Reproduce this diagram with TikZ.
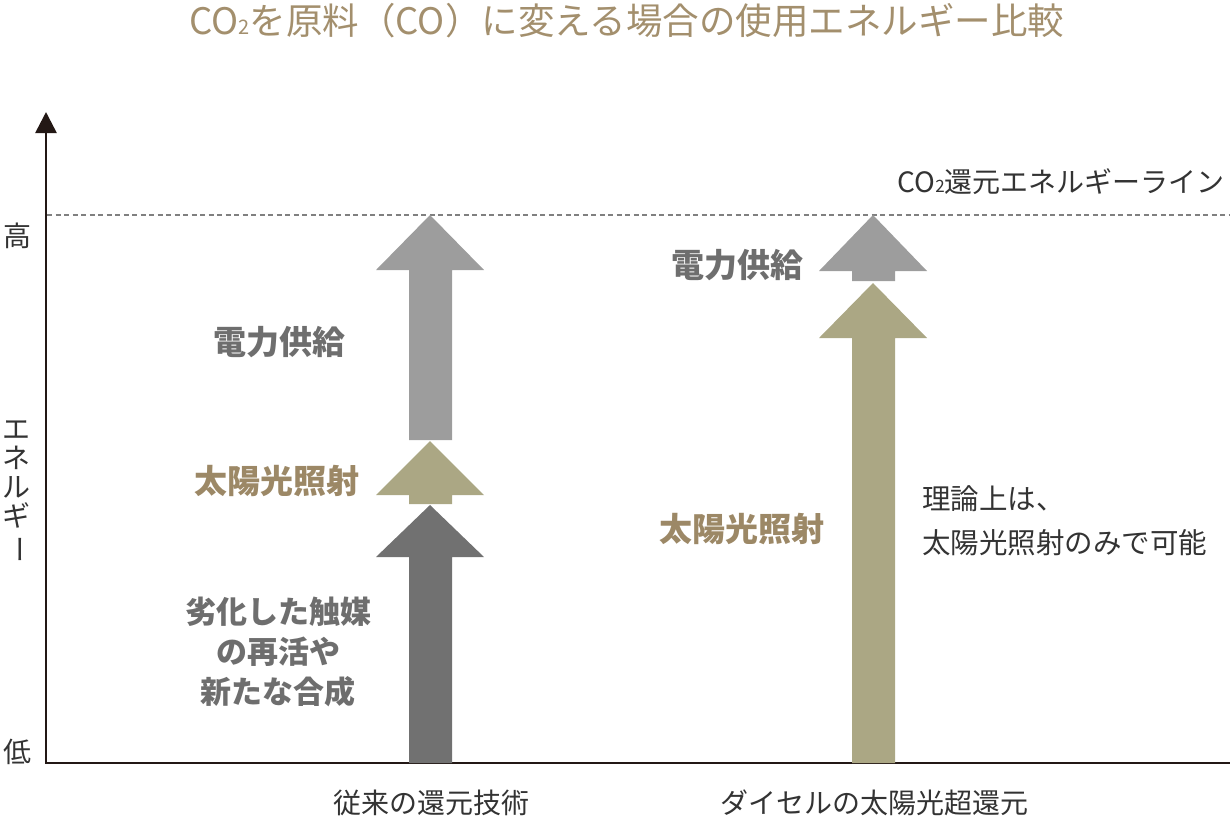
\documentclass[tikz,border=0pt]{standalone}
\usepackage{fontspec}
\setmainfont{Noto Sans CJK JP}
\usetikzlibrary{arrows.meta}
\definecolor{axisc}{HTML}{231815}
\definecolor{darkarr}{HTML}{717171}
\definecolor{lightarr}{HTML}{9D9D9D}
\definecolor{tanarr}{HTML}{ABA784}
\definecolor{tantext}{HTML}{9C8866}
\definecolor{titlec}{HTML}{A38F6D}
\definecolor{graytext}{HTML}{6E6E6E}
\definecolor{plaintext}{HTML}{333333}
\definecolor{dashc}{HTML}{808080}
\newcommand{\fsz}[1]{\fontsize{#1}{#1}\selectfont}
\newcommand{\subtwo}[1]{{\fontsize{#1}{#1}\selectfont 2}}
\begin{document}
\begin{tikzpicture}[x=1pt,y=-1pt,
  bigbold/.style={font=\fsz{33}\bfseries, text=graytext, inner sep=0pt},
  tanbold/.style={font=\fsz{33}\bfseries, text=tantext, inner sep=0pt},
  plain/.style={font=\fsz{28}, text=plaintext, inner sep=0pt}]
\useasboundingbox (0,0) rectangle (1230,820);
% title
\node[font=\fsz{36.5}, text=titlec, inner sep=0pt] (title) at (627,21) {CO\subtwo{20}を原料（CO）に変える場合の使用エネルギー比較};
% axes
\coordinate (origin) at (46,763);
\coordinate (ytop) at (46,112);
\coordinate (xend) at (1230,763);
\draw[axisc, line width=2.6, -{Triangle[width=21,length=21]}] (xend) -- (origin) -- (ytop);
% dashed reference line
\coordinate (dl) at (47,215);
\coordinate (dr) at (1230,215);
\draw[dashc, line width=1.3, dash pattern=on 5 off 3.5] (dl) -- (dr);
\node[plain, anchor=east] (line) at (1225,182) {CO\subtwo{17}還元エネルギーライン};
% axis labels
\node[plain] (high) at (18,236) {高};
\node[plain] (low) at (18,752) {低};
\node[plain, align=center, font=\fsz{28}\linespread{1}\selectfont] (ene) at (16,492) {エ\\[1pt]ネ\\[1pt]ル\\[1pt]ギ\\[1pt]\rotatebox[origin=c]{-90}{ー}};
% left column arrows
\fill[darkarr] (409,763) -- (409,557) -- (376,557) -- (430,505) -- (484,557) -- (452,557) -- (452,763) -- cycle;
\fill[tanarr] (409,504) -- (409,495) -- (376,495) -- (430,441) -- (484,495) -- (452,495) -- (452,504) -- cycle;
\fill[lightarr] (409,440) -- (409,270) -- (376,270) -- (430,215) -- (484,270) -- (452,270) -- (452,440) -- cycle;
% right column arrows
\fill[tanarr] (852,763) -- (852,338) -- (819,338) -- (873,283) -- (927,338) -- (895,338) -- (895,763) -- cycle;
\fill[lightarr] (852,281) -- (852,271) -- (819,271) -- (873,215) -- (927,271) -- (895,271) -- (895,281) -- cycle;
% left labels
\node[bigbold] (elecL) at (279,342) {電力供給};
\node[tanbold] (sunL) at (277,481) {太陽光照射};
\node[bigbold, align=center, font=\fsz{31}\bfseries] (cat) at (278,652) {劣化した触媒\\[9pt]の再活や\\[9pt]新たな合成};
% right labels
\node[bigbold] (elecR) at (737,265) {電力供給};
\node[tanbold] (sunR) at (742,529) {太陽光照射};
\node[plain, align=left, anchor=west, font=\fsz{28.5}] (theory) at (922,521) {理論上は、\\[16pt]太陽光照射のみで可能};
% bottom labels
\node[plain] (conv) at (431,803) {従来の還元技術};
\node[plain] (daicel) at (874,803) {ダイセルの太陽光超還元};
\end{tikzpicture}
\end{document}
